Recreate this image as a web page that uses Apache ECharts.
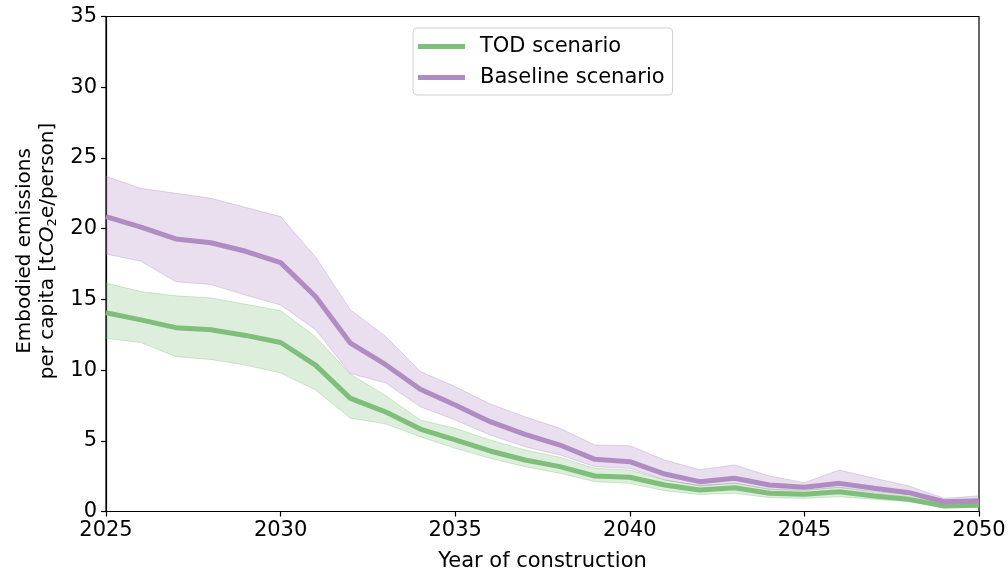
<!DOCTYPE html>
<html>
<head>
<meta charset="utf-8">
<script src="https://cdn.jsdelivr.net/npm/echarts@6/dist/echarts.min.js"></script>
<style>html,body{margin:0;padding:0;background:#fff}#c{width:1008px;height:573px}</style>
</head>
<body>
<div id="c"></div>
<script>
const years = [2025,2026,2027,2028,2029,2030,2031,2032,2033,2034,2035,2036,2037,2038,2039,2040,2041,2042,2043,2044,2045,2046,2047,2048,2049,2050];
const tod = [14.05,13.55,13.0,12.85,12.45,11.95,10.35,8.0,7.05,5.83,5.06,4.28,3.64,3.17,2.51,2.42,1.87,1.52,1.68,1.29,1.22,1.4,1.1,0.86,0.39,0.44];
const todUpper = [16.15,15.55,15.25,15.1,14.65,14.2,12.35,9.7,8.2,6.47,5.88,5.06,4.35,3.83,3.05,2.93,2.23,1.85,2.0,1.57,1.47,1.71,1.33,1.1,0.53,0.58];
const todLower = [12.25,11.95,10.95,10.75,10.35,9.8,8.6,6.6,6.2,5.29,4.47,3.76,3.17,2.7,2.11,1.99,1.47,1.2,1.29,0.98,0.93,1.05,0.86,0.69,0.3,0.34];
const base = [20.85,20.1,19.27,19.0,18.4,17.6,15.2,11.9,10.4,8.64,7.53,6.35,5.46,4.7,3.69,3.52,2.65,2.11,2.35,1.87,1.71,1.99,1.64,1.33,0.69,0.76];
const baseUpper = [23.7,22.85,22.5,22.15,21.5,20.85,18.0,14.25,12.4,9.9,8.83,7.6,6.7,5.88,4.7,4.65,3.64,2.95,3.29,2.51,2.04,2.93,2.35,1.8,0.93,1.1];
const baseLower = [18.2,17.7,16.25,16.05,15.3,14.6,12.85,9.75,9.1,7.41,6.47,5.41,4.58,4.0,3.17,3.05,2.23,1.8,2.0,1.57,1.52,1.71,1.4,1.17,0.53,0.58];

const GREEN = '#7fbf7b', PURPLE = '#af8dc3';
const FONT = 'DejaVu Sans';
const FS = 21;
const YFS = 20;
const diff = (u,l) => u.map((v,i)=> +(v-l[i]).toFixed(3));

function band(name, lower, upper, color, op){
  return [
    {type:'line', name:name+'_lo', stack:name, data:lower, symbol:'none', silent:true,
     lineStyle:{color:color, opacity:0.35, width:1}, z:1},
    {type:'line', name:name+'_hi', stack:name, data:diff(upper,lower), symbol:'none', silent:true,
     lineStyle:{color:color, opacity:0.35, width:1}, areaStyle:{color:color, opacity:op}, z:1}
  ];
}

const chart = echarts.init(document.getElementById('c'));
chart.setOption({
  animation:false,
  backgroundColor:'#fff',
  textStyle:{fontFamily:FONT},
  grid:{left:106, right:29, top:16.5, bottom:61.5, outerBoundsMode:'none', containLabel:false,
        show:true, borderColor:'#000', borderWidth:1.2, backgroundColor:'transparent'},
  legend:{
    data:['TOD scenario','Baseline scenario'],
    orient:'vertical', left:413, top:28,
    icon:'rect', itemWidth:47, itemHeight:5, itemGap:10,
    backgroundColor:'#fff', borderColor:'#d0d0d0', borderWidth:1, borderRadius:4,
    padding:[8,8,7,5],
    textStyle:{fontFamily:FONT, fontSize:FS, color:'#000', padding:[0,0,0,10]}
  },
  xAxis:{
    type:'category', data:years.map(String), boundaryGap:false,
    name:'Year of construction', nameLocation:'middle', nameGap:40,
    nameTextStyle:{fontFamily:FONT, fontSize:FS, color:'#000'},
    axisLine:{show:true, lineStyle:{color:'#000', width:1.2}},
    axisTick:{show:true, inside:false, length:5, interval:4, lineStyle:{color:'#000', width:1.2}},
    axisLabel:{fontFamily:FONT, fontSize:FS, color:'#000', margin:9, interval:4},
    splitLine:{show:false}
  },
  yAxis:{
    type:'value', min:0, max:35, interval:5,
    name:'Embodied emissions\nper capita [t{i|CO}{s|2}e/person]',
    nameLocation:'middle', nameGap:46, nameRotate:90,
    nameTextStyle:{fontFamily:FONT, fontSize:YFS, color:'#000', lineHeight:23, align:'center',
      padding:[0,0,0,26],
      rich:{i:{fontFamily:FONT, fontStyle:'italic', fontSize:YFS, color:'#000', lineHeight:23},
            s:{fontFamily:FONT, fontSize:13, color:'#000', lineHeight:23, verticalAlign:'bottom', padding:[9,0,0,0]}}},
    axisLine:{show:true, lineStyle:{color:'#000', width:1.2}},
    axisTick:{show:true, inside:false, length:5, lineStyle:{color:'#000', width:1.2}},
    axisLabel:{fontFamily:FONT, fontSize:FS, color:'#000', margin:9},
    splitLine:{show:false}
  },
  series:[
    ...band('tb', todLower, todUpper, GREEN, 0.26),
    ...band('bb', baseLower, baseUpper, PURPLE, 0.28),
    {type:'line', name:'TOD scenario', data:tod, symbol:'none', color:GREEN,
     lineStyle:{color:GREEN, width:5}, z:3},
    {type:'line', name:'Baseline scenario', data:base, symbol:'none', color:PURPLE,
     lineStyle:{color:PURPLE, width:5}, z:3}
  ]
});
</script>
</body>
</html>
